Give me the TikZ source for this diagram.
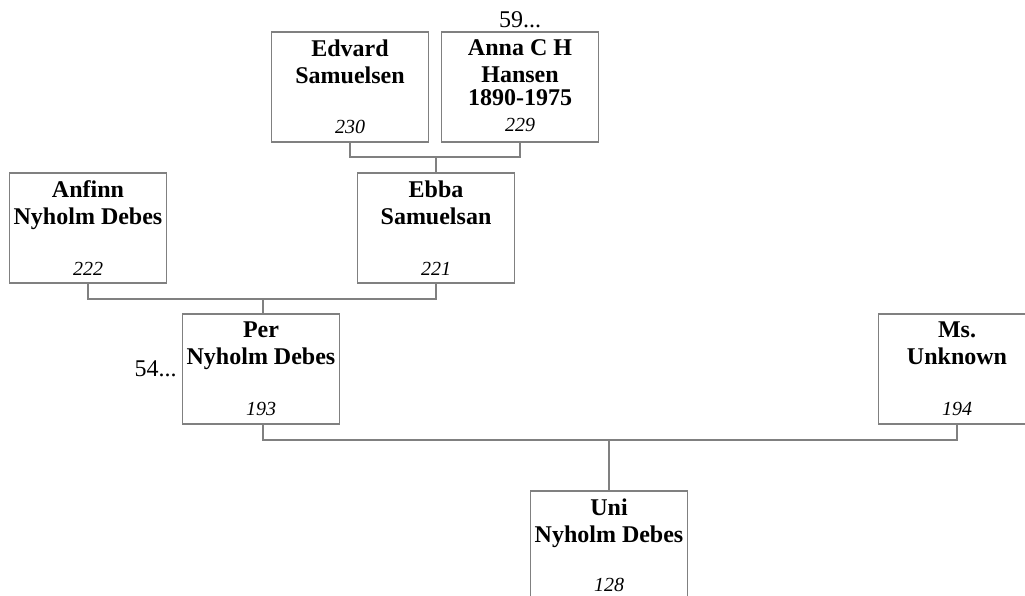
\documentclass[tikz,border=0pt]{standalone}
\usepackage{fontspec}
\setmainfont{Liberation Serif}
\usepackage{xcolor}
\usepackage{tikz}
\usetikzlibrary{positioning}

\definecolor{boxgray}{RGB}{128,128,128}

\begin{document}
\begin{tikzpicture}[
    x=1pt, y=-1pt,
    every node/.style={font=\fontsize{24}{27}\selectfont},
    person/.style={
        rectangle,
        draw=boxgray,
        line width=1.3pt,
        fill=white,
        minimum width=157pt,
        minimum height=110pt,
        inner sep=0pt
    },
    nametext/.style={
        anchor=north,
        align=center,
        inner sep=0pt,
        font=\fontsize{24}{27}\selectfont\bfseries
    },
    idtext/.style={
        anchor=base,
        inner sep=0pt,
        font=\fontsize{20}{24}\selectfont\itshape
    },
    moretext/.style={inner sep=0pt},
    link/.style={draw=boxgray, line width=1.3pt}
]
\clip (0,0) rectangle (1025,596);

% Nodes with fixed coordinates
\node[person] (p230) at (350,87)  {};
\node[person] (p229) at (520,87)  {};
\node[person] (p222) at (88,228)  {};
\node[person] (p221) at (436,228) {};
\node[person] (p193) at (261,369) {};
\node[person] (p194) at (957,369) {};
\node[person] (p128) at (609,546) {};

% Names and numbers
\node[nametext] (n230) at ([yshift=-8pt]p230.north) {Edvard\\Samuelsen};
\node[idtext]   (i230) at ([yshift=9pt]p230.south)  {230};
\node[nametext] (n229) at ([yshift=-8pt]p229.north) {Anna C H\\Hansen\\[-4pt]1890-1975};
\node[idtext]   (i229) at ([yshift=11pt]p229.south) {229};
\node[nametext] (n222) at ([yshift=-8pt]p222.north) {Anfinn\\Nyholm Debes};
\node[idtext]   (i222) at ([yshift=8pt]p222.south)  {222};
\node[nametext] (n221) at ([yshift=-8pt]p221.north) {Ebba\\Samuelsan};
\node[idtext]   (i221) at ([yshift=8pt]p221.south)  {221};
\node[nametext] (n193) at ([yshift=-8pt]p193.north) {Per\\Nyholm Debes};
\node[idtext]   (i193) at ([yshift=9pt]p193.south)  {193};
\node[nametext] (n194) at ([yshift=-8pt]p194.north) {Ms.\\Unknown};
\node[idtext]   (i194) at ([yshift=9pt]p194.south)  {194};
\node[nametext] (n128) at ([yshift=-8pt]p128.north) {Uni\\Nyholm Debes};
\node[idtext]   (i128) at ([yshift=-101pt]p128.north) {128};

\node[moretext, above=3pt of p229.north] (m229) {59...};
\node[moretext, left=5pt of p193] (m193) {54...};

% Lines
\coordinate (j221) at (436,157);
\coordinate (j193) at (263,299);
\coordinate (j128) at (609,440);

\draw[link] (p230.south) |- (j221) -| (p229.south);
\draw[link] (j221) -- (p221.north);

\draw[link] (p222.south) |- (j193) -| (p221.south);
\draw[link] (j193) -- (p193.north -| j193);

\draw[link] (p193.south -| j193) |- (j128) -| (p194.south);
\draw[link] (j128) -- (p128.north);

\end{tikzpicture}
\end{document}
